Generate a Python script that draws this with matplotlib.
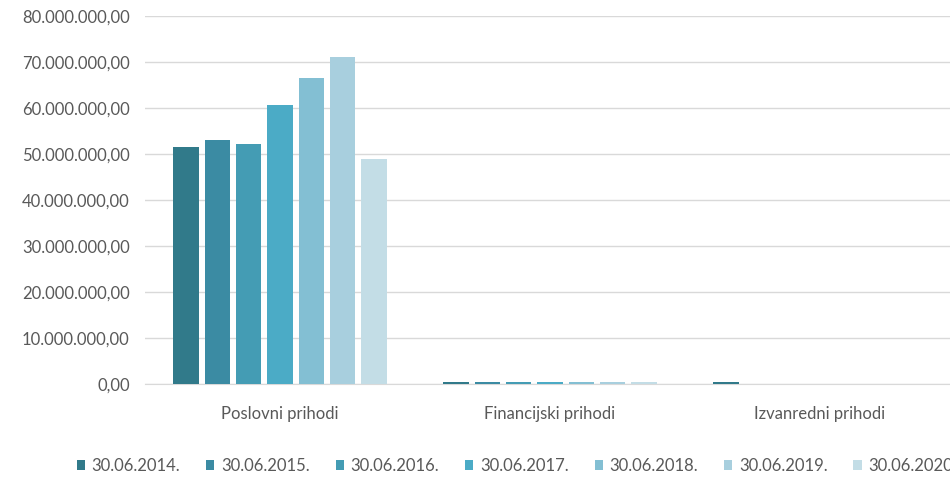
import matplotlib.pyplot as plt
from matplotlib.ticker import FuncFormatter
import numpy as np

plt.rcParams['font.family'] = ['Lato', 'DejaVu Sans']

categories = ['Poslovni prihodi', 'Financijski prihodi', 'Izvanredni prihodi']
series_labels = ['30.06.2014.', '30.06.2015.', '30.06.2016.', '30.06.2017.',
                 '30.06.2018.', '30.06.2019.', '30.06.2020.']
values = [
    [51.6e6, 0.5e6, 0.5e6],
    [53.0e6, 0.5e6, 0.0],
    [52.1e6, 0.5e6, 0.0],
    [60.7e6, 0.5e6, 0.0],
    [66.6e6, 0.45e6, 0.0],
    [71.1e6, 0.45e6, 0.0],
    [48.9e6, 0.45e6, 0.0],
]
colors = ['#317A8A', '#3B8BA3', '#449CB4', '#4BABC6', '#83BFD3', '#A8CFDE', '#C3DDE6']


def fmt(v, pos):
    s = f'{v:,.2f}'
    return s.replace(',', 'X').replace('.', ',').replace('X', '.')


fig = plt.figure(figsize=(9.5, 4.78), dpi=100)
ax = fig.add_axes([145 / 950, 1 - 384 / 478, 810 / 950, 368 / 478])

x = np.arange(len(categories))
step = 0.116
width = 0.093
for i, (lab, vals, c) in enumerate(zip(series_labels, values, colors)):
    ax.bar(x + (i - 3) * step, vals, width, color=c, label=lab, zorder=3)

ax.set_xlim(-0.5, 2.5)
ax.set_ylim(0, 80e6)
ax.set_yticks(np.arange(0, 80e6 + 1, 10e6))
ax.yaxis.set_major_formatter(FuncFormatter(fmt))
ax.set_xticks(x)
ax.set_xticklabels(categories)
ax.grid(axis='y', color='#D9D9D9', linewidth=1, zorder=0)
for s in ['top', 'right', 'left']:
    ax.spines[s].set_visible(False)
ax.spines['bottom'].set_color('#D9D9D9')
ax.tick_params(axis='both', length=0, labelsize=12, colors='#595959')
ax.tick_params(axis='x', pad=16)
ax.tick_params(axis='y', pad=11)

fig.legend(loc='center left', bbox_to_anchor=(70 / 950, 1 - 466 / 478), ncol=7,
           frameon=False, fontsize=12, handlelength=0.5, handleheight=0.5,
           handletextpad=0.4, columnspacing=1.55, labelcolor='#595959',
           borderaxespad=0)

fig.savefig('out.png', dpi=100)
